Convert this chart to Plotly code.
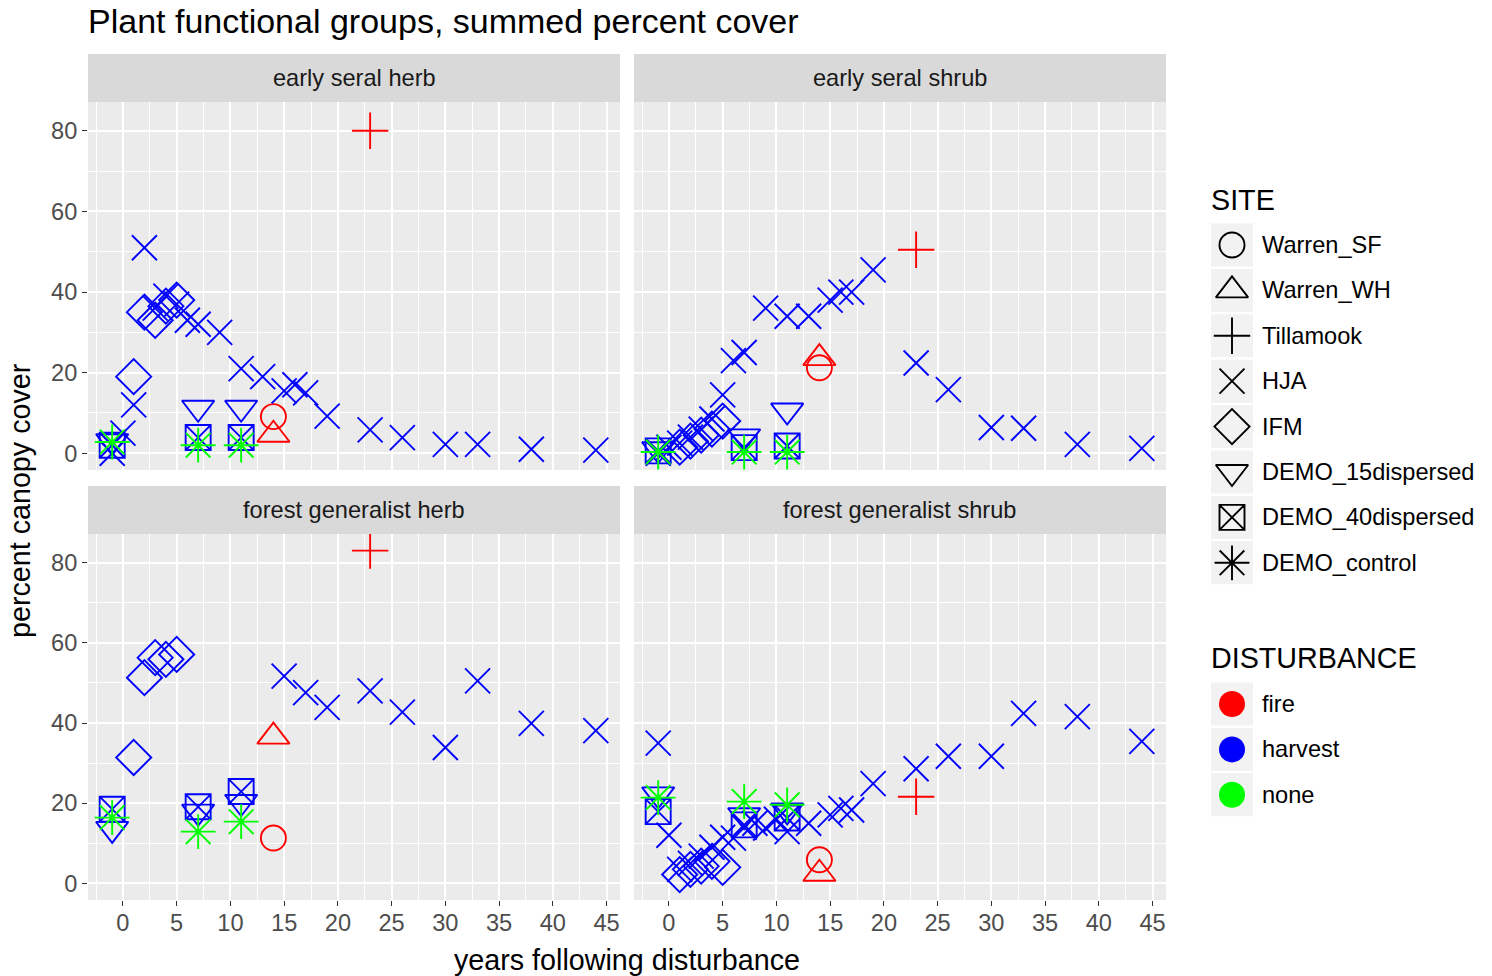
import plotly.graph_objects as go

W, H = 1492, 976

# ---------------- data ----------------
panel_titles = ["early seral herb", "early seral shrub",
                "forest generalist herb", "forest generalist shrub"]
sites = ["Warren_SF", "Warren_WH", "Tillamook", "HJA", "IFM",
         "DEMO_15dispersed", "DEMO_40dispersed", "DEMO_control"]
site_disturbance = {"Warren_SF": "fire", "Warren_WH": "fire", "Tillamook": "fire",
                    "HJA": "harvest", "IFM": "harvest", "DEMO_15dispersed": "harvest",
                    "DEMO_40dispersed": "harvest", "DEMO_control": "none"}
disturbances = ["fire", "harvest", "none"]
x_ticks = [0, 5, 10, 15, 20, 25, 30, 35, 40, 45]
y_ticks = [0, 20, 40, 60, 80]

early_herb = {
    "Warren_SF": ([14], [9.1]),
    "Warren_WH": ([14], [4.6]),
    "Tillamook": ([23], [80]),
    "HJA": ([-1, 0, 1, 2, 3, 4, 5, 6, 7, 9, 11, 13, 15, 16, 17, 19, 23, 26, 30, 33, 38, 44],
            [0, 5, 12, 51, 36, 39, 37, 33, 32, 30, 21, 19, 15.5, 17, 15, 9.2, 5.8, 3.9, 2.2, 2.2, 1, 0.8]),
    "IFM": ([1, 2, 3, 4, 5], [19, 35, 33, 36.5, 38]),
    "DEMO_15dispersed": ([-1, 7, 11], [3, 11.3, 11.3]),
    "DEMO_40dispersed": ([-1, 7, 11], [2, 3.9, 3.9]),
    "DEMO_control": ([-1, 7, 11], [2.8, 2, 2]),
}
early_shrub = {
    "Warren_SF": ([14], [21.2]),
    "Warren_WH": ([14], [23.6]),
    "Tillamook": ([23], [50.5]),
    "HJA": ([-1, 0, 1, 2, 3, 4, 5, 6, 7, 9, 11, 13, 15, 16, 17, 19, 23, 26, 30, 33, 38, 44],
            [0, 1.5, 2.5, 4, 6, 8.5, 14.5, 23, 25, 36, 34, 34, 38, 40, 40, 45.5, 22.4, 15.8, 6.4, 6.2, 2.2, 1.2]),
    "IFM": ([1, 2, 3, 4, 5], [1.5, 3, 4.5, 6, 8]),
    "DEMO_15dispersed": ([-1, 7, 11], [1, 4.2, 10.6]),
    "DEMO_40dispersed": ([-1, 7, 11], [0.6, 1.4, 1.8]),
    "DEMO_control": ([-1, 7, 11], [0.3, 0.3, 0.3]),
}
forest_herb = {
    "Warren_SF": ([14], [11.3]),
    "Warren_WH": ([14], [36.6]),
    "Tillamook": ([23], [83]),
    "HJA": ([15, 17, 19, 23, 26, 30, 33, 38, 44],
            [51.7, 47.6, 43.9, 48, 42.7, 33.9, 50.5, 39.9, 38.1]),
    "IFM": ([1, 2, 3, 4, 5], [31.4, 51.3, 56.3, 55.9, 57.1]),
    "DEMO_15dispersed": ([-1, 7, 11], [13.6, 17.9, 20.3]),
    "DEMO_40dispersed": ([-1, 7, 11], [18.5, 19.1, 22.9]),
    "DEMO_control": ([-1, 7, 11], [16.4, 12.9, 15.4]),
}
forest_shrub = {
    "Warren_SF": ([14], [5.9]),
    "Warren_WH": ([14], [2.4]),
    "Tillamook": ([23], [21.6]),
    "HJA": ([-1, 0, 1, 2, 3, 4, 5, 6, 7, 8, 9, 10, 11, 13, 15, 16, 17, 19, 23, 26, 30, 33, 38, 44],
            [35, 12, 3.5, 5, 6.8, 9, 11.5, 11.3, 14, 15, 13.8, 16, 12.9, 15, 17.1, 18.7, 18.3, 24.9,
             28.6, 31.7, 31.7, 42.4, 41.6, 35.4]),
    "IFM": ([1, 2, 3, 4, 5], [2.2, 3.5, 4.3, 5.5, 4]),
    "DEMO_15dispersed": ([-1, 7, 11], [22.2, 17, 18.2]),
    "DEMO_40dispersed": ([-1, 7, 11], [17.9, 14.6, 16.3]),
    "DEMO_control": ([-1, 7, 11], [21.4, 20.4, 19.6]),
}
panel_data = [early_herb, early_shrub, forest_herb, forest_shrub]

# ---------------- styles ----------------
FONT = "Liberation Sans, Arial, Helvetica, sans-serif"
dist_colors = {"fire": "#FF0000", "harvest": "#0000FF", "none": "#00FF00"}
site_symbol = {"Warren_SF": "circle-open", "Warren_WH": "triangle-up-open",
               "Tillamook": "cross-thin-open", "HJA": "x-thin-open",
               "IFM": "diamond-open", "DEMO_15dispersed": "triangle-down-open",
               "DEMO_40dispersed": "square-x-open", "DEMO_control": "asterisk-open"}
site_size = {"Warren_SF": 25, "Warren_WH": 28, "Tillamook": 26, "HJA": 25,
             "IFM": 27, "DEMO_15dispersed": 28, "DEMO_40dispersed": 25, "DEMO_control": 29}
LW = 1.9
TXT = 23.6

# panel pixel boxes: (x0, x1, y0_top, y1_bottom)
panel_px = [(88, 620, 102, 470), (634, 1166, 102, 470),
            (88, 620, 534, 900), (634, 1166, 534, 900)]
STRIP_H = 48

fig = go.Figure()

def fx(px):
    return px / W

def fy(py):
    return 1 - py / H

for i, data in enumerate(panel_data):
    ax = "" if i == 0 else str(i + 1)
    for site in sites:
        xs, ys = data[site]
        c = dist_colors[site_disturbance[site]]
        fig.add_trace(go.Scatter(
            x=xs, y=ys, mode="markers", xaxis="x" + ax, yaxis="y" + ax,
            marker=dict(symbol=site_symbol[site], size=site_size[site], color=c,
                        line=dict(color=c, width=LW)),
            showlegend=False, hoverinfo="skip"))

shapes = []
annotations = []
for i, (x0, x1, y0, y1) in enumerate(panel_px):
    ax = "" if i == 0 else str(i + 1)
    bottom = i >= 2
    left = i % 2 == 0
    fig.layout["xaxis" + ax] = dict(
        domain=[fx(x0), fx(x1)], range=[-3.25, 46.25], anchor="y" + ax,
        tickvals=x_ticks, showticklabels=bottom, ticks="outside" if bottom else "",
        ticklen=5, tickwidth=1, tickcolor="#333333", ticklabelstandoff=-3,
        tickfont=dict(family=FONT, size=TXT, color="#4D4D4D"),
        showgrid=True, gridcolor="white", gridwidth=2, zeroline=False, showline=False,
        minor=dict(tick0=2.5, dtick=5, showgrid=True, gridcolor="white", gridwidth=1, ticks=""),
    )
    fig.layout["yaxis" + ax] = dict(
        domain=[fy(y1), fy(y0)], range=[-4.15, 87.15], anchor="x" + ax,
        tickvals=y_ticks, showticklabels=left, ticks="outside" if left else "",
        ticklen=5, tickwidth=1, tickcolor="#333333",
        tickfont=dict(family=FONT, size=TXT, color="#4D4D4D"),
        showgrid=True, gridcolor="white", gridwidth=2, zeroline=False, showline=False,
        minor=dict(tick0=10, dtick=20, showgrid=True, gridcolor="white", gridwidth=1, ticks=""),
    )
    # panel background
    shapes.append(dict(type="rect", xref="paper", yref="paper", layer="below",
                       x0=fx(x0), x1=fx(x1), y0=fy(y1), y1=fy(y0),
                       fillcolor="#EBEBEB", line=dict(width=0)))
    # strip
    shapes.append(dict(type="rect", xref="paper", yref="paper", layer="below",
                       x0=fx(x0), x1=fx(x1), y0=fy(y0), y1=fy(y0 - STRIP_H),
                       fillcolor="#D9D9D9", line=dict(width=0)))
    annotations.append(dict(text=panel_titles[i], xref="paper", yref="paper",
                            x=fx((x0 + x1) / 2), y=fy(y0 - STRIP_H / 2),
                            xanchor="center", yanchor="middle", showarrow=False,
                            font=dict(family=FONT, size=TXT, color="#1A1A1A")))

# titles
annotations.append(dict(text="Plant functional groups, summed percent cover",
                        xref="paper", yref="paper", x=fx(86), y=fy(21),
                        xanchor="left", yanchor="middle", showarrow=False,
                        font=dict(family=FONT, size=34, color="black")))
annotations.append(dict(text="years following disturbance", xref="paper", yref="paper",
                        x=fx(627), y=fy(960), xanchor="center", yanchor="middle",
                        showarrow=False, font=dict(family=FONT, size=28.7, color="black")))
annotations.append(dict(text="percent canopy cover", xref="paper", yref="paper",
                        x=fx(20), y=fy(501), xanchor="center", yanchor="middle",
                        textangle=-90, showarrow=False,
                        font=dict(family=FONT, size=28.7, color="black")))

# ---------------- manual legend ----------------
LEG_X0 = 1195
fig.layout["xaxis5"] = dict(domain=[fx(LEG_X0), 1], range=[LEG_X0, W], visible=False,
                            anchor="y5", fixedrange=True)
fig.layout["yaxis5"] = dict(domain=[0, 1], range=[H, 0], visible=False,
                            anchor="x5", fixedrange=True)

KEY_CX = 1232
KEY_W, KEY_H = 42, 43
site_y0, step = 245, 45.4
annotations.append(dict(text="SITE", xref="paper", yref="paper", x=fx(1209), y=fy(200),
                        xanchor="left", yanchor="middle", showarrow=False,
                        font=dict(family=FONT, size=28.7, color="black")))
for k, site in enumerate(sites):
    cy = site_y0 + k * step
    shapes.append(dict(type="rect", xref="paper", yref="paper", layer="below",
                       x0=fx(KEY_CX - KEY_W / 2), x1=fx(KEY_CX + KEY_W / 2),
                       y0=fy(cy + KEY_H / 2), y1=fy(cy - KEY_H / 2),
                       fillcolor="#F2F2F2", line=dict(width=0)))
    fig.add_trace(go.Scatter(x=[KEY_CX], y=[cy], mode="markers", xaxis="x5", yaxis="y5",
                             marker=dict(symbol=site_symbol[site], size=site_size[site],
                                         color="black", line=dict(color="black", width=LW)),
                             showlegend=False, hoverinfo="skip"))
    annotations.append(dict(text=site, xref="paper", yref="paper", x=fx(1260), y=fy(cy),
                            xanchor="left", yanchor="middle", showarrow=False,
                            font=dict(family=FONT, size=TXT, color="black")))

dist_y0 = 704
annotations.append(dict(text="DISTURBANCE", xref="paper", yref="paper", x=fx(1209), y=fy(658),
                        xanchor="left", yanchor="middle", showarrow=False,
                        font=dict(family=FONT, size=28.7, color="black")))
for k, d in enumerate(disturbances):
    cy = dist_y0 + k * step
    shapes.append(dict(type="rect", xref="paper", yref="paper", layer="below",
                       x0=fx(KEY_CX - KEY_W / 2), x1=fx(KEY_CX + KEY_W / 2),
                       y0=fy(cy + KEY_H / 2), y1=fy(cy - KEY_H / 2),
                       fillcolor="#F2F2F2", line=dict(width=0)))
    fig.add_trace(go.Scatter(x=[KEY_CX], y=[cy], mode="markers", xaxis="x5", yaxis="y5",
                             marker=dict(symbol="circle", size=26, color=dist_colors[d],
                                         line=dict(width=0)),
                             showlegend=False, hoverinfo="skip"))
    annotations.append(dict(text=d, xref="paper", yref="paper", x=fx(1260), y=fy(cy),
                            xanchor="left", yanchor="middle", showarrow=False,
                            font=dict(family=FONT, size=TXT, color="black")))

fig.update_layout(width=W, height=H, margin=dict(l=0, r=0, t=0, b=0),
                  paper_bgcolor="white", plot_bgcolor="rgba(0,0,0,0)",
                  showlegend=False, shapes=shapes, annotations=annotations,
                  font=dict(family=FONT))

fig.write_html("out.html", config={"displayModeBar": False},
               post_script="document.body.style.margin='0';document.body.style.overflow='hidden';")
